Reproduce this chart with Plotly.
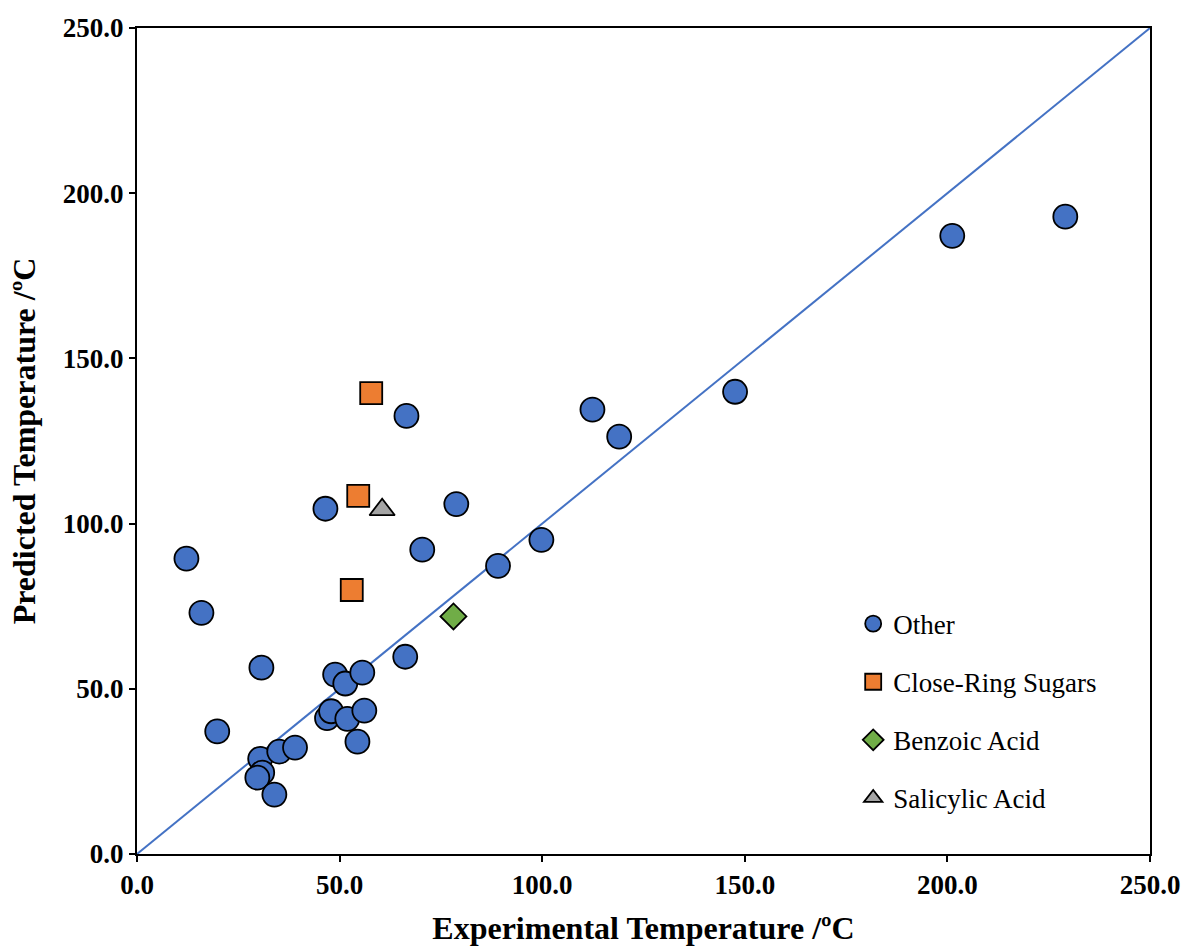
import plotly.graph_objects as go

# Data
other_x = [12.2, 15.9, 19.8, 30.7, 30.4, 30.9, 29.7, 33.9, 35.1, 39.0,
           46.5, 46.9, 47.9, 48.9, 51.4, 51.9, 55.6, 56.1, 54.4, 66.5,
           66.2, 70.4, 78.8, 89.1, 99.8, 112.4, 119.0, 147.6, 201.2, 229.1]
other_y = [89.4, 73.0, 37.1, 56.4, 28.8, 24.6, 23.1, 18.0, 31.0, 32.2,
           104.5, 41.1, 43.2, 54.3, 51.6, 40.9, 54.9, 43.4, 34.0, 132.6,
           59.7, 92.1, 105.9, 87.2, 95.1, 134.5, 126.3, 139.9, 187.1, 192.9]
sugar_x = [57.8, 54.6, 53.0]
sugar_y = [139.5, 108.4, 79.9]
benzoic_x = [78.1]
benzoic_y = [71.9]
salicylic_x = [60.5]
salicylic_y = [104.2]
line_x = [0, 250]
line_y = [0, 250]
tick_vals = [0, 50, 100, 150, 200, 250]
tick_text = ["0.0", "50.0", "100.0", "150.0", "200.0", "250.0"]

FONT = "Liberation Serif, Times New Roman, serif"
mline = dict(color="black", width=1.8)

fig = go.Figure()
fig.add_trace(go.Scatter(x=line_x, y=line_y, mode="lines",
                         line=dict(color="#4472C4", width=2),
                         showlegend=False, hoverinfo="skip"))
fig.add_trace(go.Scatter(x=other_x, y=other_y, mode="markers", name="Other",
                         legendgroup="a",
                         marker=dict(symbol="circle", size=24, color="#4472C4", line=mline)))
fig.add_trace(go.Scatter(x=sugar_x, y=sugar_y, mode="markers", name="Close-Ring Sugars",
                         legendgroup="b",
                         marker=dict(symbol="square", size=22, color="#ED7D31", line=mline)))
fig.add_trace(go.Scatter(x=benzoic_x, y=benzoic_y, mode="markers", name="Benzoic Acid",
                         legendgroup="c",
                         marker=dict(symbol="diamond", size=20, color="#70AD47", line=mline)))
fig.add_trace(go.Scatter(x=salicylic_x, y=salicylic_y, mode="markers", name="Salicylic Acid",
                         legendgroup="d",
                         marker=dict(symbol="triangle-up", size=22, color="#A5A5A5", line=mline)))

axis_common = dict(
    range=[0, 250], tickvals=tick_vals, ticktext=tick_text,
    showgrid=False, zeroline=False, automargin=False,
    showline=True, linecolor="black", linewidth=2, mirror=True,
    ticks="outside", ticklen=6, tickwidth=2, tickcolor="black",
    tickfont=dict(family=FONT, size=27, color="black", weight="bold"),
)

fig.update_layout(
    width=1184, height=946,
    margin=dict(l=137, r=34, t=28, b=92),
    paper_bgcolor="white", plot_bgcolor="white",
    font=dict(family=FONT, color="black"),
    xaxis=dict(axis_common,
               title=dict(text="<b>Experimental Temperature /ºC</b>",
                          font=dict(family=FONT, size=32, color="black"), standoff=21)),
    yaxis=dict(axis_common,
               title=dict(text="<b>Predicted Temperature /ºC</b>",
                          font=dict(family=FONT, size=32, color="black"), standoff=18)),
    legend=dict(x=0.707, y=0.308, xanchor="left", yanchor="top",
                font=dict(family=FONT, size=27, color="black"),
                traceorder="grouped", tracegroupgap=20,
                bgcolor="rgba(0,0,0,0)", borderwidth=0),
)

fig.write_html("out.html")
